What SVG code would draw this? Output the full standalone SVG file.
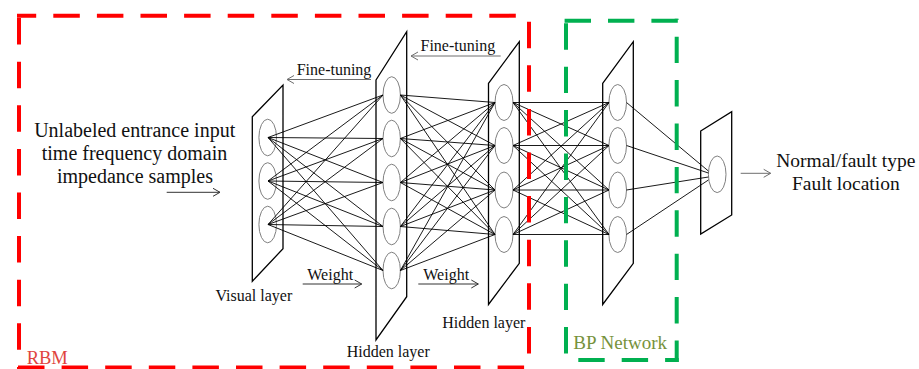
<svg xmlns="http://www.w3.org/2000/svg" width="919" height="369" viewBox="0 0 919 369">
  <style>
    text { font-family: "Liberation Serif", "Times New Roman", serif; fill: #111; }
    .big { font-size: 20px; }
    .small { font-size: 16px; }
    .plane { fill: #fff; stroke: #000; stroke-width: 1.3; stroke-linejoin: miter; }
    .unit { fill: #fff; stroke: #808080; stroke-width: 1; }
    .link { fill: none; stroke: #000; stroke-width: 0.9; }
    .red { stroke: #ff0000; stroke-width: 4; stroke-dasharray: 26.5 17.1; fill: none; }
    .green { stroke: #00b050; stroke-width: 4; stroke-dasharray: 26.4 17; fill: none; }
    .arr-dark { stroke: #333; stroke-width: 1; fill: none; marker-end: url(#head-dark); }
    .arr-gray { stroke: #6e6e6e; stroke-width: 1; fill: none; marker-end: url(#head-gray); }
  </style>
  <defs>
    <marker id="head-dark" markerUnits="userSpaceOnUse" viewBox="0 0 10 10" markerWidth="10" markerHeight="10" refX="8" refY="5" orient="auto">
      <path d="M1,1 L8,5 L1,9" fill="none" stroke="#333" stroke-width="1"/>
    </marker>
    <marker id="head-gray" markerUnits="userSpaceOnUse" viewBox="0 0 10 10" markerWidth="10" markerHeight="10" refX="8" refY="5" orient="auto">
      <path d="M1,1 L8,5 L1,9" fill="none" stroke="#6e6e6e" stroke-width="1"/>
    </marker>
  </defs>

  <rect width="919" height="369" fill="#fff"/>

  <!-- layer planes (drawn under the links) -->
  <g id="visual-layer">
    <polygon class="plane" points="252.3,116.7 283,85 283,248.7 252.3,281.3"/>
    <ellipse class="unit" cx="267.7" cy="137.5" rx="8.8" ry="18.3"/>
    <ellipse class="unit" cx="267.7" cy="181" rx="8.8" ry="18.3"/>
    <ellipse class="unit" cx="267.7" cy="224.5" rx="8.8" ry="18.3"/>
    <text class="small" x="215.5" y="300.5">Visual layer</text>
  </g>

  <g id="hidden-layer-1">
    <polygon class="plane" points="376,80 406.7,31.7 406.7,296.7 376,340"/>
    <ellipse class="unit" cx="391.7" cy="95" rx="8.7" ry="18.3"/>
    <ellipse class="unit" cx="391.7" cy="138.5" rx="8.7" ry="18.3"/>
    <ellipse class="unit" cx="391.7" cy="182.5" rx="8.7" ry="18.3"/>
    <ellipse class="unit" cx="391.7" cy="226.5" rx="8.7" ry="18.3"/>
    <ellipse class="unit" cx="391.7" cy="270.5" rx="8.7" ry="18.3"/>
    <text class="small" x="346.7" y="356.5">Hidden layer</text>
  </g>

  <g id="hidden-layer-2">
    <polygon class="plane" points="488.5,83.3 519.3,41.7 519.3,263.3 488.5,304.5"/>
    <ellipse class="unit" cx="504" cy="102.5" rx="9" ry="18"/>
    <ellipse class="unit" cx="504" cy="145.5" rx="9" ry="18"/>
    <ellipse class="unit" cx="504" cy="190" rx="9" ry="18"/>
    <ellipse class="unit" cx="504" cy="234.5" rx="9" ry="18"/>
    <text class="small" x="442.3" y="328.3">Hidden layer</text>
  </g>

  <g id="bp-hidden-layer">
    <polygon class="plane" points="602.7,83.3 633.3,41.7 633.3,263.3 602.7,304.5"/>
    <ellipse class="unit" cx="617.7" cy="102.5" rx="8.8" ry="18"/>
    <ellipse class="unit" cx="617.7" cy="145.5" rx="8.8" ry="18"/>
    <ellipse class="unit" cx="617.7" cy="190" rx="8.8" ry="18"/>
    <ellipse class="unit" cx="617.7" cy="234.5" rx="8.8" ry="18"/>
  </g>

  <g id="output-layer">
    <polygon class="plane" points="700.7,131 731.7,111.7 731.7,215 700.7,234"/>
    <ellipse class="unit" cx="717.2" cy="174.3" rx="8.8" ry="18.3"/>
  </g>

  <!-- weighted links between layers -->
  <g id="connectors">
    <path class="link" d="M268 137.5L383 95M268 137.5L383 138.5M268 137.5L383 182.5M268 137.5L383 226.5M268 137.5L383 270.5
      M268 181L383 95M268 181L383 138.5M268 181L383 182.5M268 181L383 226.5M268 181L383 270.5
      M268 224.5L383 95M268 224.5L383 138.5M268 224.5L383 182.5M268 224.5L383 226.5M268 224.5L383 270.5"/>
    <path class="link" d="M400.4 95L495 102.5M400.4 95L495 145.5M400.4 95L495 190M400.4 95L495 234.5
      M400.4 138.5L495 102.5M400.4 138.5L495 145.5M400.4 138.5L495 190M400.4 138.5L495 234.5
      M400.4 182.5L495 102.5M400.4 182.5L495 145.5M400.4 182.5L495 190M400.4 182.5L495 234.5
      M400.4 226.5L495 102.5M400.4 226.5L495 145.5M400.4 226.5L495 190M400.4 226.5L495 234.5
      M400.4 270.5L495 102.5M400.4 270.5L495 145.5M400.4 270.5L495 190M400.4 270.5L495 234.5"/>
    <path class="link" d="M513 102.5L609 102.5M513 102.5L609 145.5M513 102.5L609 190M513 102.5L609 234.5
      M513 145.5L609 102.5M513 145.5L609 145.5M513 145.5L609 190M513 145.5L609 234.5
      M513 190L609 102.5M513 190L609 145.5M513 190L609 190M513 190L609 234.5
      M513 234.5L609 102.5M513 234.5L609 145.5M513 234.5L609 190M513 234.5L609 234.5"/>
    <path class="link" d="M626.5 102.5L708.4 171M626.5 145.5L708.4 173M626.5 190L708.4 177M626.5 234.5L708.4 180"/>

    <!-- training direction arrows -->
    <line class="arr-dark" x1="166.7" y1="192.3" x2="220" y2="192.3"/>
    <line class="arr-gray" x1="371" y1="79.5" x2="287" y2="79.5"/>
    <line class="arr-gray" x1="500.7" y1="56" x2="411" y2="56"/>
    <line class="arr-dark" x1="302.7" y1="284" x2="361.7" y2="284"/>
    <line class="arr-dark" x1="418.3" y1="284" x2="478.3" y2="284"/>
    <line class="arr-gray" x1="740.7" y1="173.3" x2="770.7" y2="173.3"/>
  </g>

  <g id="labels">
    <text class="big" x="134.7" y="136.7" text-anchor="middle">Unlabeled entrance input</text>
    <text class="big" x="134.5" y="160" text-anchor="middle">time frequency domain</text>
    <text class="big" x="135" y="182.7" text-anchor="middle">impedance samples</text>
    <text class="small" x="296.7" y="75">Fine-tuning</text>
    <text class="small" x="420.5" y="51">Fine-tuning</text>
    <text class="small" x="307.3" y="279.5">Weight</text>
    <text class="small" x="423.3" y="279.5">Weight</text>
    <text x="845.8" y="167.3" text-anchor="middle" style="font-size:19.5px">Normal/fault type</text>
    <text x="845.8" y="190" text-anchor="middle" style="font-size:19.5px">Fault location</text>
  </g>

  <!-- RBM region -->
  <g id="rbm-box">
    <line class="red" x1="17" y1="15.7" x2="529" y2="15.7" stroke-dashoffset="7.3"/>
    <line class="red" x1="529" y1="13.7" x2="529" y2="369" stroke-dashoffset="35.6"/>
    <line class="red" x1="19" y1="13.7" x2="19" y2="369" stroke-dashoffset="39.2"/>
    <line class="red" x1="17" y1="367.5" x2="531" y2="367.5" stroke-dashoffset="42.6"/>
    <text x="26.7" y="364" style="font-size:18.5px; fill:#e0443e">RBM</text>
  </g>

  <!-- BP network region -->
  <g id="bp-box">
    <line class="green" x1="564" y1="20.7" x2="678.7" y2="20.7" stroke-dashoffset="42.8"/>
    <line class="green" x1="566" y1="18.7" x2="566" y2="362" stroke-dashoffset="38.8"/>
    <line class="green" x1="676.7" y1="18.7" x2="676.7" y2="362" stroke-dashoffset="25.4"/>
    <line class="green" x1="564" y1="360" x2="678.7" y2="360" stroke-dashoffset="29.1"/>
    <text x="573.3" y="349.3" style="font-size:19px; fill:#76923c">BP Network</text>
  </g>
</svg>
